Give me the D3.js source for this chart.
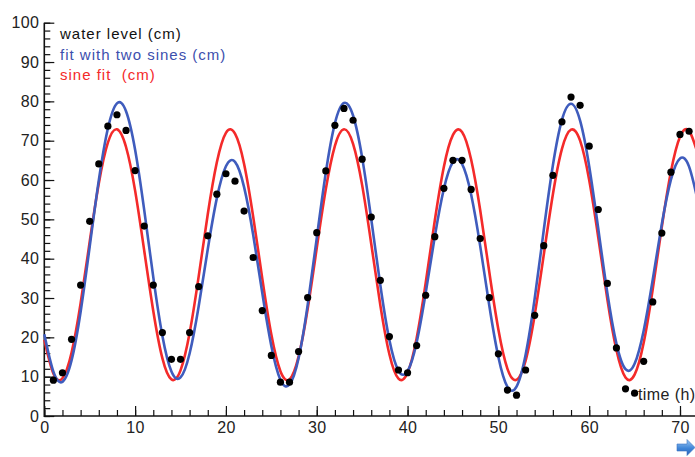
<!DOCTYPE html>
<html><head><meta charset="utf-8">
<script src="https://cdn.jsdelivr.net/npm/d3@7/dist/d3.min.js"></script>
<style>
html,body{margin:0;padding:0;background:#fff}
svg{display:block}
text{font-family:"Liberation Sans",Arial,Helvetica,sans-serif}
</style>
</head><body>
<svg id="chart" width="695" height="457"></svg>
<script>
// ---- data ----
const dotHours = [1,2,3,4,5,6,7,8,9,10,11,12,13,14,15,16,17,18,19,20,21,22,23,24,25,26,27,28,29,30,31,32,33,34,35,36,37,38,39,40,41,42,43,44,45,46,47,48,49,50,51,52,53,54,55,56,57,58,59,60,61,62,63,64,65,66,67,68,69,70,71];
const waterLevel = [9.1,11.0,19.5,33.3,49.5,64.1,73.7,76.6,72.6,62.4,48.3,33.3,21.2,14.4,14.4,21.2,32.9,45.8,56.4,61.6,59.7,52.1,40.3,26.8,15.4,8.6,8.6,16.4,30.1,46.6,62.3,73.9,78.2,75.2,65.3,50.6,34.5,20.2,11.7,11.0,17.9,30.7,45.6,57.9,65.0,65.0,57.6,45.1,30.1,15.8,6.6,5.3,11.7,25.6,43.3,61.2,74.8,81.1,79.0,68.6,52.5,33.7,17.3,6.9,5.8,13.9,29.0,46.5,62.0,71.6,72.4];

const fitHours = [0,1,2,3,4,5,6,7,8,9,10,11,12,13,14,15,16,17,18,19,20,21,22,23,24,25,26,27,28,29,30,31,32,33,34,35,36,37,38,39,40,41,42,43,44,45,46,47,48,49,50,51,52,53,54,55,56,57,58,59,60,61,62,63,64,65,66,67,68,69,70,71,72];
const twoSineFit = [20.8,11.3,8.7,14.1,26.5,43.1,59.9,73.1,79.5,77.5,67.7,52.4,35.3,20.4,11.3,9.8,15.9,27.9,42.4,55.4,63.5,64.6,58.2,46.1,31.3,17.8,9.2,8.0,14.7,28.2,45.2,61.9,74.4,79.6,76.4,65.7,50.1,33.3,19.3,11.5,11.4,18.7,31.3,45.6,57.8,64.6,64.1,56.3,43.2,28.1,15.0,7.4,7.5,15.6,29.9,47.3,63.7,75.3,79.4,75.1,63.5,47.6,31.3,18.4,11.9,13.3,21.7,34.7,48.8,60.1,65.5,63.4,54.2];
const sineFit = [19.4,10.8,9.6,16.1,28.7,44.3,59.1,69.5,72.9,68.4,57.3,42.1,26.7,14.7,9.3,11.6,21.1,35.5,51.3,64.5,72.0,71.8,64.1,50.7,35.0,20.7,11.4,9.3,15.1,27.2,42.7,57.7,68.7,72.9,69.2,58.7,43.8,28.2,15.7,9.5,11.0,19.8,33.9,49.7,63.4,71.5,72.2,65.2,52.3,36.6,22.0,12.0,9.2,14.1,25.7,41.0,56.3,67.9,72.8,70.0,60.0,45.4,29.7,16.8,9.8,10.5,18.6,32.3,48.1,62.1,71.0,72.5,66.3];

const xMajorTicks = [0,10,20,30,40,50,60,70];
const xMinorTicks = [0,2,4,6,8,10,12,14,16,18,20,22,24,26,28,30,32,34,36,38,40,42,44,46,48,50,52,54,56,58,60,62,64,66,68,70,72];
const yMajorTicks = [0,10,20,30,40,50,60,70,80,90,100];
const yMinorTicks = [0,2,4,6,8,10,12,14,16,18,20,22,24,26,28,30,32,34,36,38,40,42,44,46,48,50,52,54,56,58,60,62,64,66,68,70,72,74,76,78,80,82,84,86,88,90,92,94,96,98,100];
const legendLabels = ["water level (cm)", "fit with two sines (cm)", "sine fit  (cm)"];
const legendColors = ["#111111", "#3c4fae", "#f42a2a"];
const xTitle = "time (h)";

// ---- drawing ----
const W = 695, H = 457;
const svg = d3.select("#chart");
const x = d3.scaleLinear().domain([0, 70]).range([44.3, 680]);
const y = d3.scaleLinear().domain([0, 100]).range([416, 22.7]);

const BLUE = "#3f5cbd", RED = "#f42a2a";

// axes ticks
const gx = svg.append("g").attr("transform", `translate(0,${y(0)})`);
gx.call(d3.axisBottom(x).tickValues(xMinorTicks).tickSizeInner(-6).tickSizeOuter(0).tickFormat(""));
gx.append("g").call(d3.axisBottom(x).tickValues(xMajorTicks).tickSizeInner(-10).tickSizeOuter(0).tickPadding(6).tickFormat(d3.format("d")));
gx.selectAll(".domain").remove();

const gy = svg.append("g").attr("transform", `translate(${x(0)},0)`);
gy.call(d3.axisLeft(y).tickValues(yMinorTicks).tickSizeInner(-6).tickSizeOuter(0).tickFormat(""));
gy.append("g").call(d3.axisLeft(y).tickValues(yMajorTicks).tickSizeInner(-10).tickSizeOuter(0).tickPadding(5).tickFormat(d3.format("d")));
gy.selectAll(".domain").remove();

svg.selectAll(".tick line").attr("stroke", "#111").attr("stroke-width", 1.2);
svg.selectAll(".tick text")
  .attr("fill", "#222")
  .style("font-size", "16px")
  .style("font-family", '"Liberation Sans", Arial, sans-serif')
  .style("letter-spacing", "0.4px");

// axis lines
svg.append("line").attr("x1", x(0)).attr("x2", W).attr("y1", y(0)).attr("y2", y(0))
  .attr("stroke", "#111").attr("stroke-width", 1.6);
svg.append("line").attr("x1", x(0)).attr("x2", x(0)).attr("y1", y(0) + 1).attr("y2", y(100))
  .attr("stroke", "#111").attr("stroke-width", 1.6);

// curves
const redData = fitHours.map((t, i) => [t, sineFit[i]]);
const blueData = fitHours.map((t, i) => [t, twoSineFit[i]]);
const line = d3.line().x(d => x(d[0])).y(d => y(d[1])).curve(d3.curveNatural);

svg.append("path").datum(redData).attr("d", line)
  .attr("fill", "none").attr("stroke", RED).attr("stroke-width", 2.6).attr("stroke-linejoin", "round");
svg.append("path").datum(blueData).attr("d", line)
  .attr("fill", "none").attr("stroke", BLUE).attr("stroke-width", 2.6).attr("stroke-linejoin", "round");

// x title
svg.append("text").attr("x", 638).attr("y", 400).text(xTitle)
  .attr("fill", "#222").style("font-size", "16px").style("letter-spacing", "0.4px");

// dots
svg.append("g").selectAll("circle").data(dotHours).join("circle")
  .attr("cx", (t) => x(t))
  .attr("cy", (t, i) => y(waterLevel[i]))
  .attr("r", 3.6)
  .attr("fill", "#000");

// legend
svg.append("g").selectAll("text").data(legendLabels).join("text")
  .attr("x", 60)
  .attr("y", (d, i) => 39 + i * 20.6)
  .attr("fill", (d, i) => legendColors[i])
  .style("font-size", "15px")
  .style("letter-spacing", "1px")
  .style("white-space", "pre")
  .attr("xml:space", "preserve")
  .text(d => d);

// navigation arrow (decoration)
const defs = svg.append("defs");
const grad = defs.append("linearGradient").attr("id", "ag").attr("x1", 0).attr("y1", 0).attr("x2", 0).attr("y2", 1);
grad.append("stop").attr("offset", "0%").attr("stop-color", "#9cc8f2");
grad.append("stop").attr("offset", "55%").attr("stop-color", "#3f86d8");
grad.append("stop").attr("offset", "100%").attr("stop-color", "#2a62b8");
svg.append("path")
  .attr("d", "M677,444 L687,444 L687,439.5 L695,447.5 L687,455.5 L687,451 L677,451 Z")
  .attr("fill", "url(#ag)").attr("stroke", "#3a74c4").attr("stroke-width", 0.6);
</script>
</body></html>
